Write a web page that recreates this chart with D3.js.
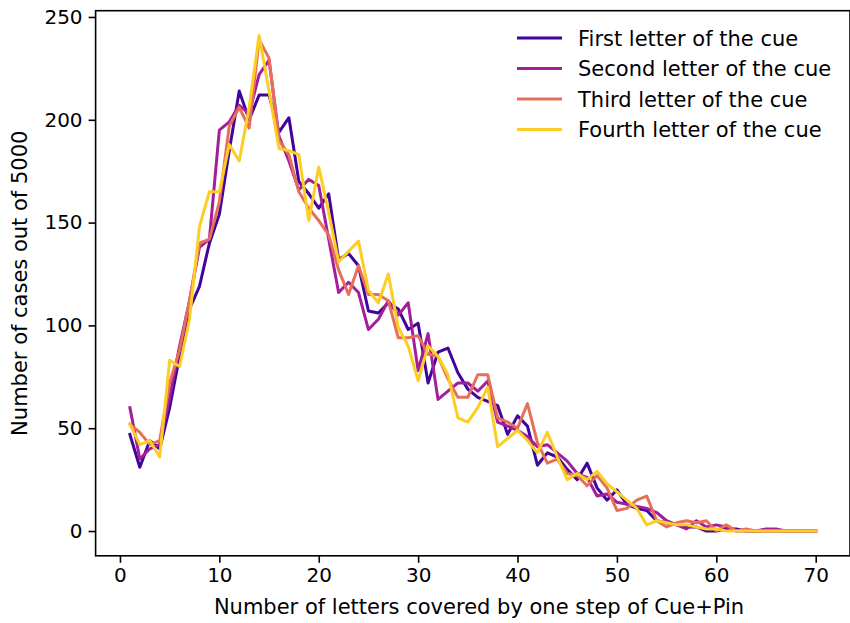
<!DOCTYPE html>
<html>
<head>
<meta charset="utf-8">
<script src="https://cdn.jsdelivr.net/npm/d3@7"></script>
<style>
  html, body { margin: 0; padding: 0; background: #fff; }
  svg { display: block; font-family: "DejaVu Sans", sans-serif; }
</style>
</head>
<body>
<svg id="chart" width="850" height="623"></svg>
<script>
const xValues = d3.range(1, 71);
const seriesNames = ["First letter of the cue", "Second letter of the cue", "Third letter of the cue", "Fourth letter of the cue"];
const seriesColors = ["#41049d", "#a31e9a", "#e76f5a", "#fcce25"];
const xTicks = [0, 10, 20, 30, 40, 50, 60, 70];
const yTicks = [0, 50, 100, 150, 200, 250];

const firstLetter = [47,31,44,40,60,85,108,119,140,154,185,214,200,212,212,194,201,170,164,157,
  164,132,135,129,107,106,111,108,98,101,72,87,89,77,69,65,63,61,47,56,
  51,32,38,36,30,25,33,21,15,20,13,11,10,5,4,3,2,2,0,0,
  1,1,0,0,0,0,0,0,0,0];
const secondLetter = [60,35,40,42,65,90,112,138,142,195,199,207,203,222,229,192,180,166,171,168,
  142,116,121,116,98,103,112,105,111,78,96,64,68,72,72,68,73,53,51,49,
  46,41,42,38,34,28,26,17,18,14,13,12,11,9,5,3,1,5,2,3,
  2,0,0,0,1,1,0,0,0,0];
const thirdLetter = [52,48,42,44,72,88,112,140,142,160,197,206,196,239,230,190,183,165,157,151,
  144,127,115,129,115,115,112,94,94,95,86,85,74,65,65,76,76,55,53,50,
  62,43,33,35,28,27,22,27,21,10,11,15,17,5,2,4,5,4,5,0,
  3,0,1,0,0,0,0,0,0,0];
const fourthLetter = [52,42,44,36,83,80,103,148,165,165,188,180,206,241,214,186,185,183,151,177,
  155,131,136,141,117,111,125,99,90,73,90,85,76,55,53,60,70,41,45,49,
  44,38,48,36,25,28,25,29,23,19,15,11,3,5,4,3,3,2,1,1,
  0,0,0,0,0,0,0,0,0,0];
const allSeries = [firstLetter, secondLetter, thirdLetter, fourthLetter];

const svg = d3.select("#chart");
const plotLeft = 95.6, plotRight = 850, plotTop = 10.7, plotBottom = 555.8;

const x = d3.scaleLinear().domain([-2.45, 73.45]).range([plotLeft, plotRight]);
const y = d3.scaleLinear().domain([-12.05, 253.05]).range([plotBottom, plotTop]);

const line = d3.line().x(d => x(d[0])).y(d => y(d[1]));

const plot = svg.append("g");
allSeries.forEach((vals, k) => {
  plot.append("path")
    .datum(xValues.map((xv, i) => [xv, vals[i]]))
    .attr("fill", "none")
    .attr("stroke", seriesColors[k])
    .attr("stroke-width", 3)
    .attr("stroke-linejoin", "round")
    .attr("stroke-linecap", "square")
    .attr("d", line);
});

svg.append("rect")
  .attr("x", plotLeft).attr("y", plotTop)
  .attr("width", plotRight - plotLeft).attr("height", plotBottom - plotTop)
  .attr("fill", "none").attr("stroke", "#000").attr("stroke-width", 1.6);

const xAxis = svg.append("g").attr("transform", `translate(0,${plotBottom})`)
  .call(d3.axisBottom(x).tickValues(xTicks).tickSize(7).tickPadding(5));
const yAxis = svg.append("g").attr("transform", `translate(${plotLeft},0)`)
  .call(d3.axisLeft(y).tickValues(yTicks).tickSize(7).tickPadding(6));
[xAxis, yAxis].forEach(a => {
  a.select(".domain").remove();
  a.selectAll(".tick line").attr("stroke", "#000").attr("stroke-width", 1.6);
  a.selectAll(".tick text").attr("font-size", 20).attr("font-family", "DejaVu Sans").attr("fill", "#000");
});

svg.append("text")
  .attr("x", 479).attr("y", 614)
  .attr("text-anchor", "middle").attr("font-size", 21).attr("fill", "#000")
  .text("Number of letters covered by one step of Cue+Pin");

svg.append("text")
  .attr("transform", `translate(27,${(plotTop + plotBottom) / 2}) rotate(-90)`)
  .attr("text-anchor", "middle").attr("font-size", 21).attr("fill", "#000")
  .text("Number of cases out of 5000");

const legend = svg.append("g");
const rowY = [38, 68.5, 99, 129.5];
seriesNames.forEach((name, k) => {
  legend.append("line")
    .attr("x1", 517).attr("x2", 562)
    .attr("y1", rowY[k]).attr("y2", rowY[k])
    .attr("stroke", seriesColors[k]).attr("stroke-width", 3);
  legend.append("text")
    .attr("x", 578).attr("y", rowY[k]).attr("dy", "0.36em")
    .attr("font-size", 21).attr("fill", "#000")
    .text(name);
});
</script>
</body>
</html>
